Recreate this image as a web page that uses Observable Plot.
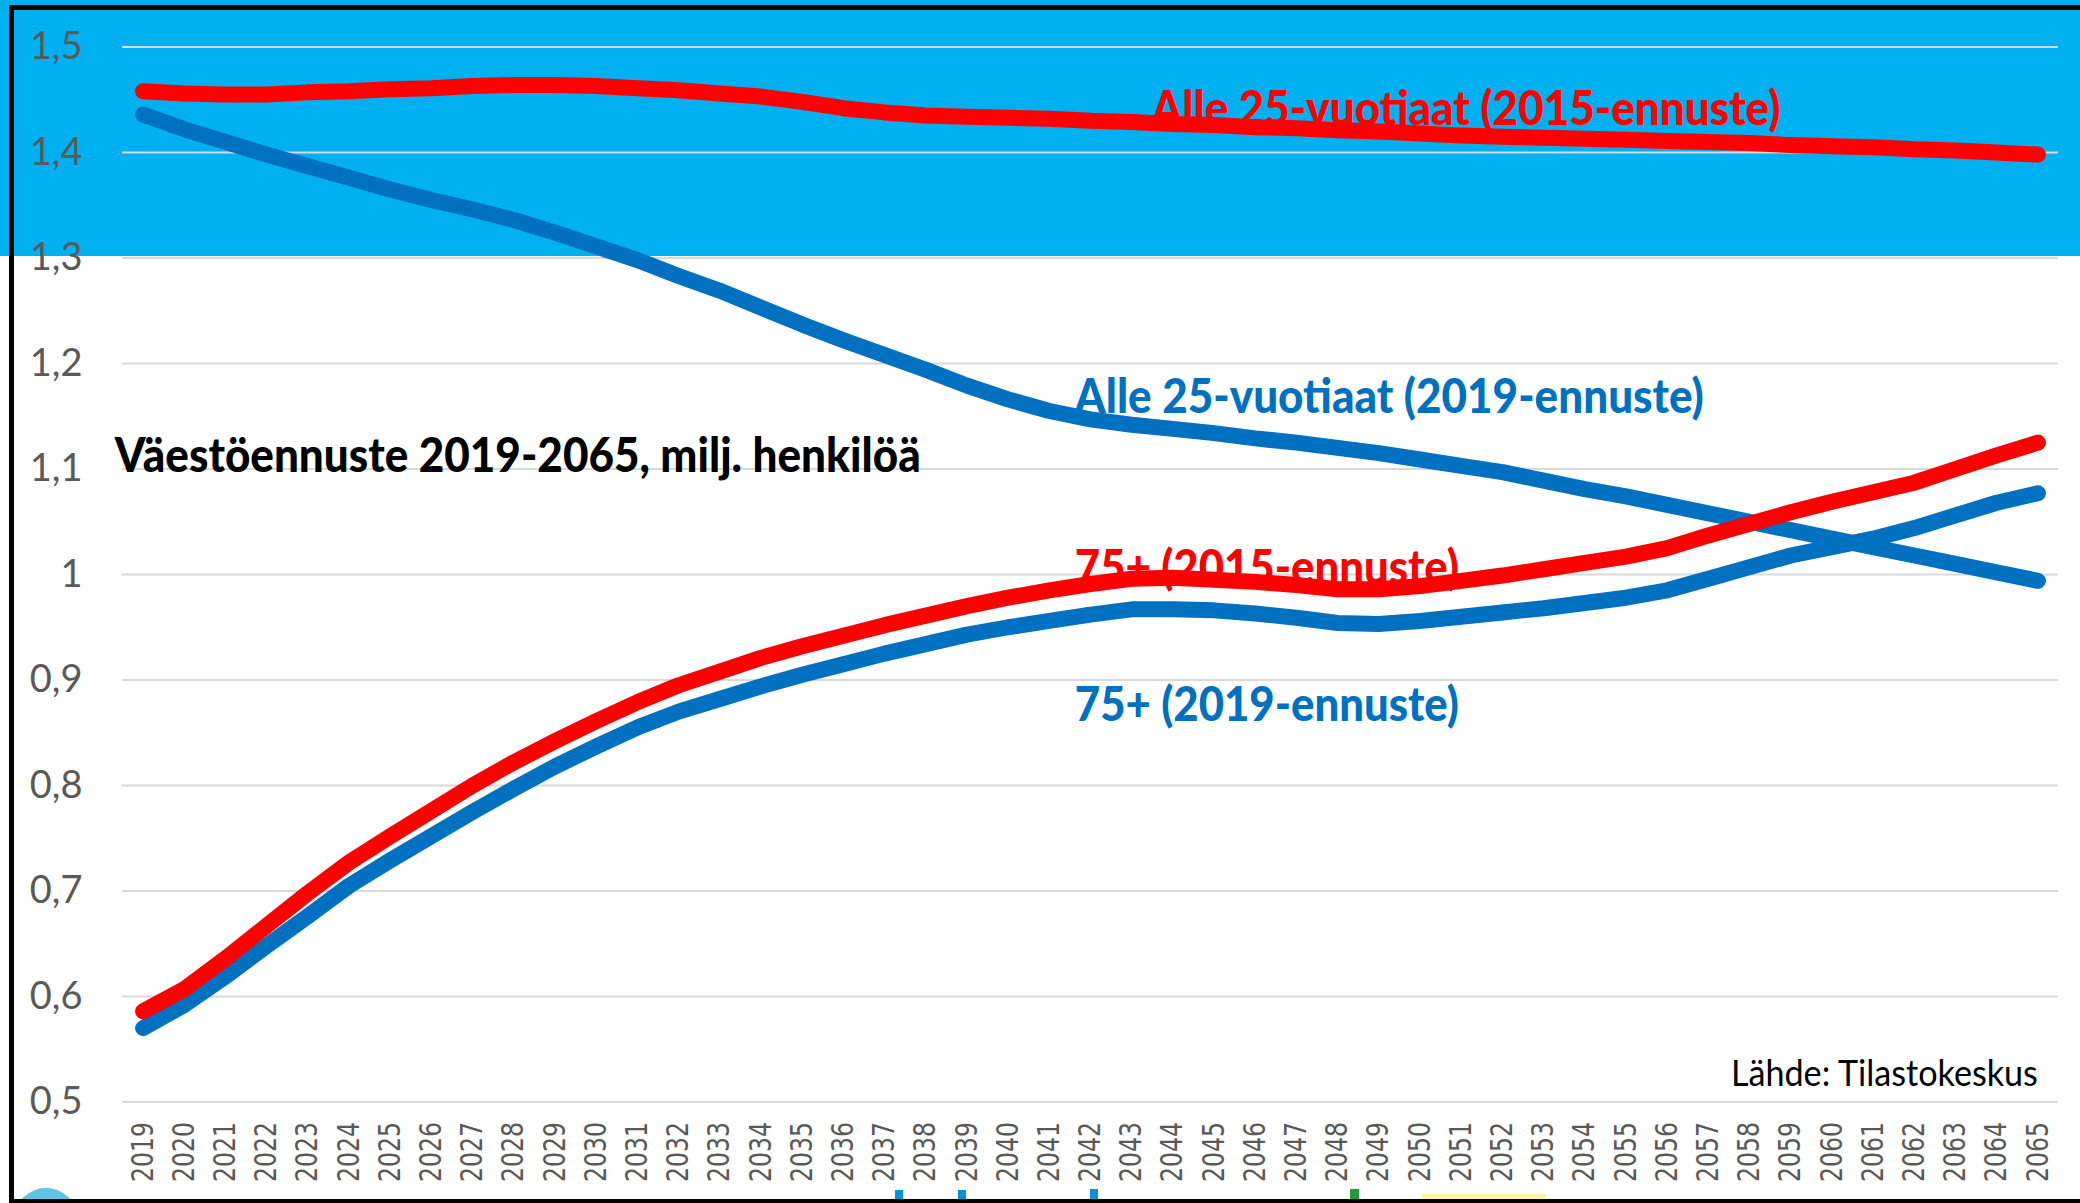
<!DOCTYPE html>
<html>
<head>
<meta charset="utf-8">
<script src="https://cdn.jsdelivr.net/npm/d3@7"></script>
<script src="https://cdn.jsdelivr.net/npm/@observablehq/plot@0.6"></script>
<style>
  html, body { margin: 0; padding: 0; background: #fff; }
  #wrap { position: relative; width: 2080px; height: 1203px; overflow: hidden; background: #fff; }
  .deco { position: absolute; }
  #chart { position: absolute; left: 0; top: 0; }
</style>
</head>
<body>
<div id="wrap">
  <div class="deco" style="left:0;top:0;width:2080px;height:256px;background:#00B0F0"></div>
  <div id="chart"></div>
  <div class="deco" style="left:9px;top:5px;width:2071px;height:5px;background:#000"></div>
  <div class="deco" style="left:9px;top:5px;width:5px;height:1198px;background:#000"></div>
  <div class="deco" style="left:14px;top:1188px;width:64px;height:64px;border-radius:32px;background:#5BC5E8"></div>
  <div class="deco" style="left:895px;top:1190px;width:8px;height:10px;background:#0096D6"></div>
  <div class="deco" style="left:958px;top:1190px;width:8px;height:10px;background:#0096D6"></div>
  <div class="deco" style="left:1090px;top:1189px;width:8px;height:11px;background:#0096D6"></div>
  <div class="deco" style="left:1350px;top:1189px;width:9px;height:11px;background:#1E9E3A"></div>
  <div class="deco" style="left:1422px;top:1194px;width:124px;height:6px;background:#FFF59D"></div>
  <div class="deco" style="left:9px;top:1199px;width:2071px;height:4px;background:#000"></div>
</div>
<script>
// ---- Data (millions of persons) ----
const years = [2019, 2020, 2021, 2022, 2023, 2024, 2025, 2026, 2027, 2028,
  2029, 2030, 2031, 2032, 2033, 2034, 2035, 2036, 2037, 2038,
  2039, 2040, 2041, 2042, 2043, 2044, 2045, 2046, 2047, 2048,
  2049, 2050, 2051, 2052, 2053, 2054, 2055, 2056, 2057, 2058,
  2059, 2060, 2061, 2062, 2063, 2064, 2065];

const alle25_2015 = [1.458, 1.456, 1.455, 1.455, 1.457, 1.458, 1.460, 1.461, 1.463, 1.464,
  1.464, 1.463, 1.461, 1.459, 1.456, 1.453, 1.448, 1.442, 1.438, 1.435,
  1.434, 1.433, 1.432, 1.430, 1.429, 1.427, 1.426, 1.424, 1.423, 1.421,
  1.420, 1.418, 1.416, 1.415, 1.414, 1.413, 1.412, 1.411, 1.410, 1.409,
  1.407, 1.406, 1.405, 1.403, 1.402, 1.400, 1.398];

const alle25_2019 = [1.436, 1.422, 1.410, 1.398, 1.387, 1.376, 1.365, 1.355, 1.346, 1.336,
  1.324, 1.311, 1.298, 1.283, 1.269, 1.253, 1.237, 1.222, 1.208, 1.194,
  1.179, 1.166, 1.155, 1.147, 1.142, 1.138, 1.134, 1.129, 1.125, 1.120,
  1.115, 1.109, 1.103, 1.097, 1.089, 1.081, 1.074, 1.066, 1.058, 1.050,
  1.042, 1.034, 1.026, 1.018, 1.010, 1.002, 0.994];

const yli75_2015 = [0.586, 0.607, 0.636, 0.667, 0.698, 0.727, 0.752, 0.776, 0.800, 0.822,
  0.842, 0.861, 0.879, 0.895, 0.908, 0.921, 0.932, 0.942, 0.952, 0.961,
  0.970, 0.978, 0.985, 0.991, 0.996, 0.997, 0.995, 0.993, 0.990, 0.986,
  0.986, 0.989, 0.994, 0.999, 1.005, 1.011, 1.017, 1.025, 1.037, 1.048,
  1.059, 1.069, 1.078, 1.087, 1.100, 1.113, 1.125];

const yli75_2019 = [0.570, 0.592, 0.619, 0.648, 0.676, 0.705, 0.729, 0.752, 0.775, 0.797,
  0.818, 0.837, 0.855, 0.870, 0.882, 0.894, 0.905, 0.915, 0.925, 0.934,
  0.943, 0.950, 0.956, 0.962, 0.967, 0.967, 0.966, 0.963, 0.959, 0.954,
  0.953, 0.956, 0.960, 0.964, 0.968, 0.973, 0.978, 0.985, 0.996, 1.007,
  1.018, 1.026, 1.034, 1.044, 1.056, 1.068, 1.077];

const yTicks = [0.5, 0.6, 0.7, 0.8, 0.9, 1.0, 1.1, 1.2, 1.3, 1.4, 1.5];

const seriesNames = ["Alle 25-vuotiaat (2019-ennuste)", "75+ (2019-ennuste)",
                     "Alle 25-vuotiaat (2015-ennuste)", "75+ (2015-ennuste)"];
const seriesValues = [alle25_2019, yli75_2019, alle25_2015, yli75_2015];

const titleText = "Väestöennuste 2019-2065, milj. henkilöä";
const sourceText = "Lähde: Tilastokeskus";

// ---- Styling ----
const BLUE = "#0070C0", RED = "#FF0000";
const seriesColors = [BLUE, BLUE, RED, RED];

const rows = [];
seriesNames.forEach((name, s) => {
  years.forEach((yr, i) => rows.push({series: name, year: yr, value: seriesValues[s][i]}));
});

// annotation placements (data coordinates) and rendered widths
const labels = [
  {text: seriesNames[2], x: 2043.48, y: 1.4256, fill: RED, size: 47, weight: 900, anchor: "start", len: 629},
  {text: seriesNames[0], x: 2041.62, y: 1.1535, fill: BLUE, size: 47, weight: 900, anchor: "start", len: 629},
  {text: seriesNames[3], x: 2041.62, y: 0.9912, fill: RED, size: 47, weight: 900, anchor: "start", len: 384},
  {text: seriesNames[1], x: 2041.62, y: 0.8616, fill: BLUE, size: 47, weight: 900, anchor: "start", len: 384},
  {text: titleText, x: 2018.31, y: 1.0967, fill: "#000", size: 47, weight: 900, anchor: "start", len: 806},
  {text: sourceText, x: 2065, y: 0.5150, fill: "#000", size: 36, weight: "normal", anchor: "end", len: 307}
];

const fmtY = d => {
  const s = d.toFixed(1);
  return s === "1.0" ? "1" : s.replace(".", ",");
};

const marks = [
  Plot.gridY({ticks: yTicks, stroke: "#D9D9D9", strokeOpacity: 1, strokeWidth: 2}),
  Plot.axisY({ticks: yTicks, tickFormat: fmtY, tickSize: 0, tickPadding: 40,
              fontSize: 38, fontFamily: "Lato", fill: "#595959", label: null}),
  Plot.axisX({ticks: years, tickFormat: d => String(d), tickRotate: -90, tickSize: 0,
              tickPadding: 20, fontSize: 30, fontFamily: "DejaVu Sans", fill: "#595959", label: null}),
  ...labels.map(l => Plot.text([l], {
    x: "x", y: "y", text: "text", fill: l.fill, fontSize: l.size, fontWeight: l.weight,
    fontFamily: "Lato", textAnchor: l.anchor, lineAnchor: "bottom"
  })),
  ...seriesNames.map((name, s) => Plot.line(rows.filter(r => r.series === name), {
    x: "year", y: "value", stroke: seriesColors[s], strokeWidth: 16,
    strokeLinecap: "round", strokeLinejoin: "round"
  }))
];

const chart = Plot.plot({
  width: 2080,
  height: 1203,
  marginLeft: 122,
  marginRight: 22,
  marginTop: 46.5,
  marginBottom: 101.5,
  x: {type: "linear", domain: [2018.5, 2065.5]},
  y: {type: "linear", domain: [0.5, 1.5]},
  style: {background: "transparent", fontFamily: "Lato", overflow: "visible"},
  marks
});

document.getElementById("chart").appendChild(chart);

// condense text to the reference widths
const lenByText = new Map(labels.map(l => [l.text, l.len]));
chart.querySelectorAll("text").forEach(t => {
  const s = t.textContent;
  if (lenByText.has(s)) {
    t.setAttribute("textLength", lenByText.get(s));
    t.setAttribute("lengthAdjust", "spacingAndGlyphs");
  }
});
chart.querySelectorAll('g[aria-label="x-axis tick label"] text').forEach(t => {
  t.setAttribute("textLength", 60);
  t.setAttribute("lengthAdjust", "spacingAndGlyphs");
});
</script>
</body>
</html>
